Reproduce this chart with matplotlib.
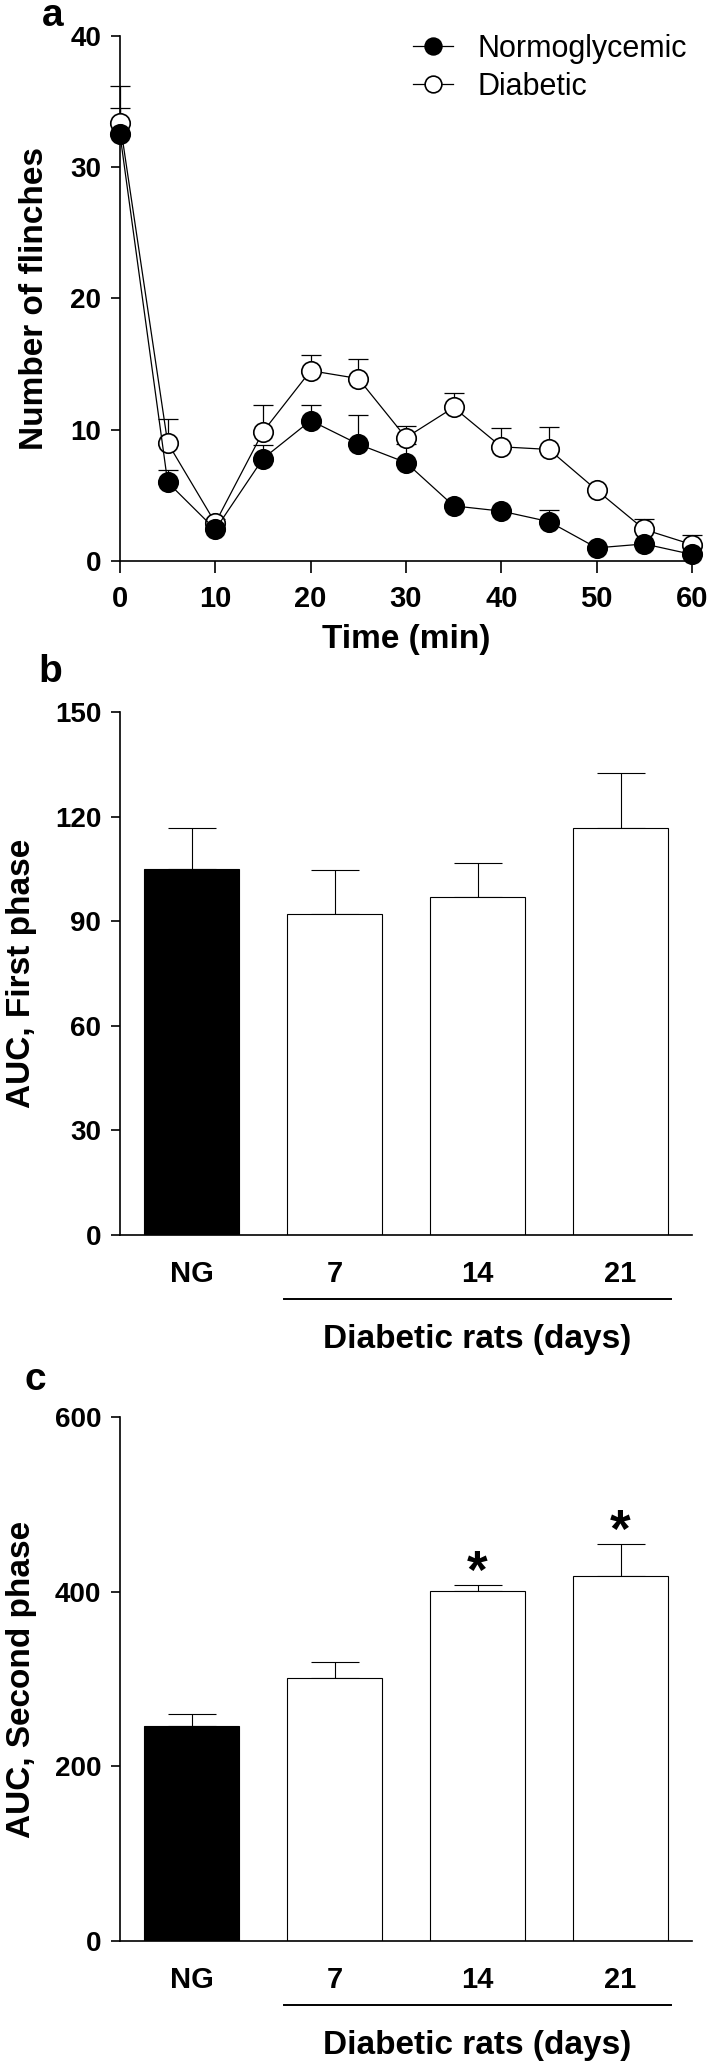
import numpy as np
import matplotlib
matplotlib.use("Agg")
import matplotlib.pyplot as plt
import matplotlib.transforms as mtransforms

plt.rcParams['font.family'] = ['Liberation Sans', 'DejaVu Sans']

# panel a - time course of flinches
time_min = [0, 5, 10, 15, 20, 25, 30, 35, 40, 45, 50, 55, 60]
normo = [32.5, 6.0, 2.4, 7.8, 10.7, 8.9, 7.5, 4.2, 3.8, 3.0, 1.0, 1.3, 0.5]
normo_err = [2.0, 0.9, 0.0, 1.0, 1.2, 2.2, 1.4, 0.0, 0.0, 0.9, 0.0, 0.0, 0.0]
diab = [33.4, 9.0, 2.9, 9.85, 14.5, 13.9, 9.4, 11.7, 8.7, 8.5, 5.4, 2.4, 1.25]
diab_err = [2.8, 1.8, 0.3, 2.0, 1.2, 1.5, 0.9, 1.1, 1.4, 1.7, 0.0, 0.8, 0.75]

# panels b and c - AUC bars
groups = ['NG', '7', '14', '21']
auc_first = [105.0, 92.0, 97.0, 116.6]
auc_first_err = [11.8, 12.8, 9.8, 15.8]
auc_second = [246.5, 301.5, 400.3, 417.8]
auc_second_err = [13.0, 18.5, 7.7, 36.6]
second_signif = [False, False, True, True]
bar_colors = ['black', 'white', 'white', 'white']

W, H = 709, 2064
fig = plt.figure(figsize=(W / 100, H / 100), dpi=100)


def px_axes(left, right, top, bottom):
    return fig.add_axes([left / W, 1 - bottom / H, (right - left) / W, (bottom - top) / H])


def style_axes(ax):
    for s in ['top', 'right']:
        ax.spines[s].set_visible(False)
    for s in ['left', 'bottom']:
        ax.spines[s].set_linewidth(1.2)
    ax.tick_params(axis='y', direction='out', length=6.5, width=1.2, pad=7, labelsize=20)


# ---------------- panel a ----------------
axa = px_axes(120, 692, 36, 561)
style_axes(axa)
t = np.array(time_min)

for y, e in [(diab, diab_err), (normo, normo_err)]:
    y = np.array(y); e = np.array(e)
    m = e > 0
    axa.errorbar(t[m], y[m], yerr=[np.zeros(m.sum()), e[m]], fmt='none', ecolor='black',
                 elinewidth=0.9, capsize=7, capthick=0.9, zorder=1, clip_on=False)

axa.plot(t, diab, '-o', color='black', lw=0.9, ms=14, mfc='white', mec='black', mew=1.2,
         label='Diabetic', zorder=3, clip_on=False)
axa.plot(t, normo, '-o', color='black', lw=0.9, ms=14, mfc='black', mec='black', mew=1.2,
         label='Normoglycemic', zorder=4, clip_on=False)

axa.set_xlim(0, 60)
axa.set_ylim(0, 40)
axa.set_xticks(range(0, 61, 10))
axa.set_yticks([0, 10, 20, 30, 40])
axa.tick_params(axis='x', direction='out', length=8.4, width=1.2, pad=9, labelsize=21)
for lab in axa.get_xticklabels() + axa.get_yticklabels():
    lab.set_fontweight('bold')
axa.text(0.5, -0.150, 'Time (min)', transform=axa.transAxes, ha='center', va='center',
         fontsize=24, fontweight='bold')
axa.text(-0.150, 0.5, 'Number of flinches', transform=axa.transAxes, rotation=90,
         ha='center', va='center', fontsize=24, fontweight='bold')

h, l = axa.get_legend_handles_labels()
axa.legend(h[::-1], l[::-1], loc='upper left', bbox_to_anchor=(413 / W, 1 - 34 / H),
           bbox_transform=fig.transFigure, frameon=False, fontsize=22, borderpad=0,
           borderaxespad=0, handlelength=1.3, handletextpad=0.8, labelspacing=0.25,
           markerscale=0.86)


# ---------------- bar panels ----------------
def bar_panel(ax, vals, errs, ymax, step, ylabel, signif=None):
    style_axes(ax)
    x = np.arange(len(groups))
    ax.bar(x, vals, width=0.66, color=bar_colors, edgecolor='black', linewidth=0.8, zorder=2)
    ax.errorbar(x, vals, yerr=[np.zeros(len(x)), errs], fmt='none', ecolor='black',
                elinewidth=0.8, capsize=17, capthick=0.8, zorder=1)
    ax.set_xlim(-0.5, 3.5)
    ax.set_ylim(0, ymax)
    ax.set_yticks(np.arange(0, ymax + 1, step))
    ax.set_xticks(x)
    ax.set_xticklabels(groups)
    ax.tick_params(axis='x', length=0, pad=18, labelsize=21)
    for lab in ax.get_xticklabels() + ax.get_yticklabels():
        lab.set_fontweight('bold')
    trans = mtransforms.blended_transform_factory(ax.transData, ax.transAxes)
    ax.plot([0.65, 3.35], [-0.123, -0.123], color='black', lw=1.4, transform=trans, clip_on=False)
    ax.text(2.0, -0.200, 'Diabetic rats (days)', transform=trans, ha='center', va='center',
            fontsize=24, fontweight='bold')
    ax.text(-0.173, 0.5, ylabel, transform=ax.transAxes, rotation=90,
            ha='center', va='center', fontsize=24, fontweight='bold')
    if signif is not None:
        for xi, v, e, s in zip(x, vals, errs, signif):
            if s:
                ax.annotate('*', (xi, v + e), xytext=(0, -2), textcoords='offset points',
                            ha='center', va='baseline', fontsize=38, fontweight='bold')


axb = px_axes(120, 692, 712, 1235)
bar_panel(axb, auc_first, auc_first_err, 150, 30, 'AUC, First phase')

axc = px_axes(120, 692, 1417, 1941)
bar_panel(axc, auc_second, auc_second_err, 600, 200, 'AUC, Second phase', second_signif)

# panel letters
for letter, (lx, ly) in zip('abc', [(53, 16), (50, 672), (35, 1380)]):
    fig.text(lx / W, 1 - ly / H, letter, ha='center', va='center', fontsize=28, fontweight='bold')

fig.savefig('out.png', dpi=100)
